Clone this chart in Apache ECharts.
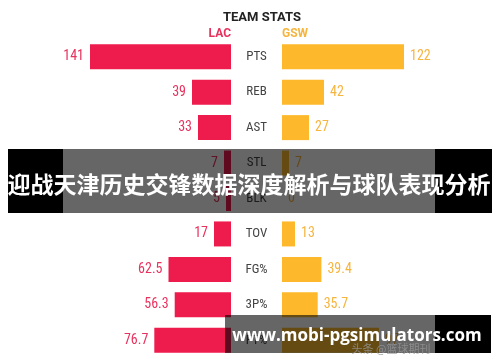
<!DOCTYPE html>
<html>
<head>
<meta charset="utf-8">
<script src="https://cdn.jsdelivr.net/npm/echarts@6/dist/echarts.min.js"></script>
<style>html,body{margin:0;padding:0;background:#fff;}#c{width:500px;height:362px;}</style>
</head>
<body>
<div id="c"></div>
<script>
const categories = ['PTS', 'REB', 'AST', 'STL', 'BLK', 'TOV', 'FG%', '3P%', 'FT%'];
const lacValues = [141, 39, 33, 7, 5, 17, 62.5, 56.3, 76.7];
const gswValues = [122, 42, 27, 7, 0, 13, 39.4, 35.7, 97];
const teamNames = ['LAC', 'GSW'];
const chartTitle = 'TEAM STATS';
const bannerText = '迎战天津历史交锋数据深度解析与球队表现分析';
const siteText = 'www.mobi-pgsimulators.com';
const sourceText = '头条 @篮球期刊';

const RED = '#EE1B4D', YEL = '#FDB92B';
const NARROW = '"Roboto Condensed","Liberation Sans Narrow","Arial Narrow",Roboto,sans-serif';

const chart = echarts.init(document.getElementById('c'));
chart.setOption({
  animation: false,
  backgroundColor: '#fff',
  title: {
    text: chartTitle, left: 218, top: 6,
    textStyle: {fontFamily: 'Roboto', fontWeight: 'bold', fontSize: 13, color: '#222'}
  },
  grid: [
    {left: 31, width: 200, top: 39, height: 319},
    {left: 282, width: 200, top: 39, height: 319}
  ],
  xAxis: [
    {gridIndex: 0, type: 'value', min: 0, max: 200, inverse: true, show: false},
    {gridIndex: 1, type: 'value', min: 0, max: 200, show: false}
  ],
  yAxis: [
    {gridIndex: 0, type: 'category', data: categories, inverse: true, show: false},
    {gridIndex: 1, type: 'category', data: categories, inverse: true,
     axisLine: {show: false}, axisTick: {show: false},
     axisLabel: {align: 'center', margin: 25.5, color: '#444', fontSize: 13, fontFamily: NARROW}}
  ],
  series: [
    {type: 'bar', name: teamNames[0], xAxisIndex: 0, yAxisIndex: 0, data: lacValues, barWidth: 25,
     itemStyle: {color: RED},
     label: {show: true, position: 'left', distance: 6, color: '#E8325E', fontSize: 14, fontFamily: NARROW}},
    {type: 'bar', name: teamNames[1], xAxisIndex: 1, yAxisIndex: 1, data: gswValues, barWidth: 25,
     itemStyle: {color: YEL},
     label: {show: true, position: 'right', distance: 6, color: '#F5B53F', fontSize: 14, fontFamily: NARROW}}
  ],
  graphic: [
    {type: 'text', z: 50, style: {text: teamNames[0], x: 231, y: 34, align: 'right', verticalAlign: 'middle',
      fill: '#E8325E', font: 'bold 12px Roboto'}},
    {type: 'text', z: 50, style: {text: teamNames[1], x: 282, y: 34, align: 'left', verticalAlign: 'middle',
      fill: '#F5B53F', font: 'bold 12px Roboto'}},
    {type: 'rect', z: 100, shape: {x: 8, y: 149, width: 55, height: 64}, style: {fill: '#000'}},
    {type: 'rect', z: 100, shape: {x: 435, y: 149, width: 57, height: 64}, style: {fill: '#000'}},
    {type: 'rect', z: 100, shape: {x: 63, y: 149, width: 372, height: 64}, style: {fill: 'rgba(0,0,0,0.6)'}},
    {type: 'text', z: 101, style: {text: bannerText, x: 249, y: 184, align: 'center', verticalAlign: 'middle',
      fill: '#fff', font: 'bold 23px "Noto Sans CJK SC"'}},
    {type: 'rect', z: 100, shape: {x: 225, y: 315, width: 210, height: 38}, style: {fill: 'rgba(0,0,0,0.6)'}},
    {type: 'rect', z: 100, shape: {x: 435, y: 315, width: 56, height: 38}, style: {fill: '#000'}},
    {type: 'text', z: 101, style: {text: sourceText, x: 391, y: 349, align: 'center', verticalAlign: 'middle',
      fill: 'rgba(150,150,150,0.8)', font: '11px "Noto Sans CJK SC"'}},
    {type: 'text', z: 102, style: {text: siteText, x: 357, y: 336, align: 'center', verticalAlign: 'middle',
      fill: '#fff', font: 'bold 17px "Open Sans"'}}
  ]
});
</script>
</body>
</html>
